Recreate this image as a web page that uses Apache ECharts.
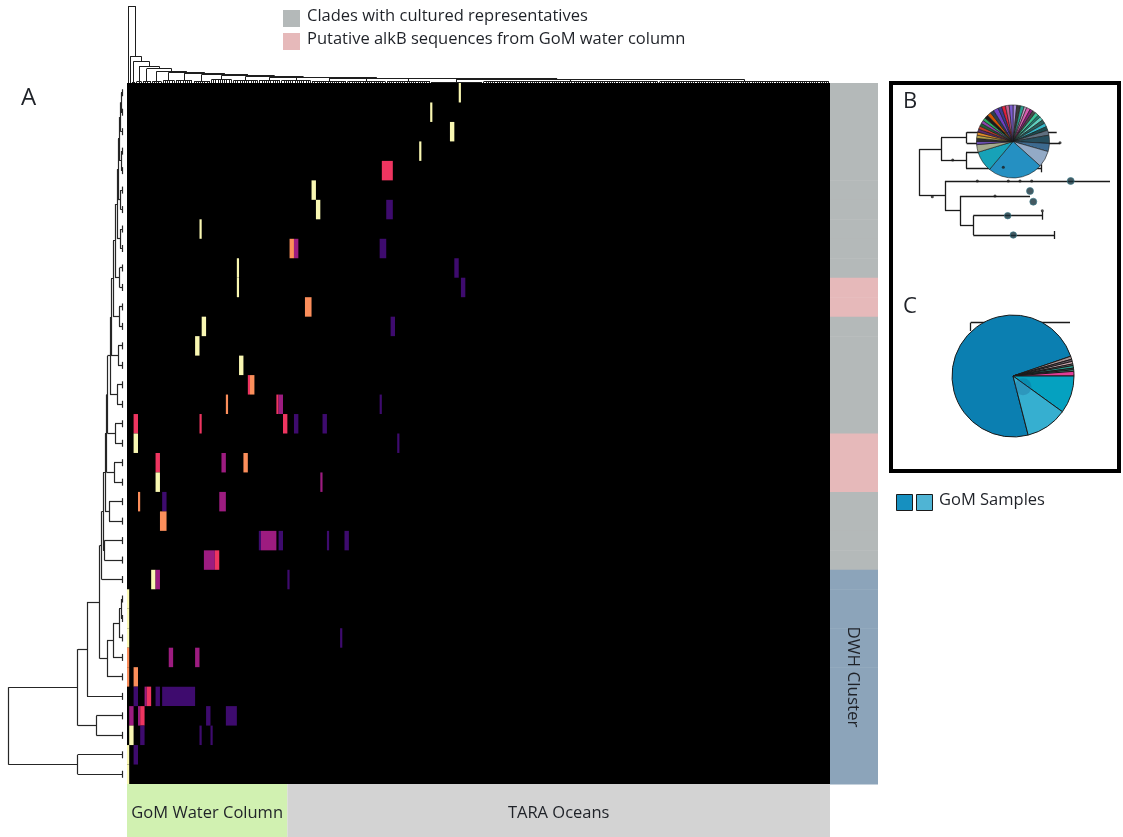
<!DOCTYPE html>
<html>
<head>
<meta charset="utf-8">
<script src="https://cdn.jsdelivr.net/npm/echarts@6/dist/echarts.min.js"></script>
<style>
html,body{margin:0;padding:0;background:#fff;}
#chart{width:1123px;height:837px;}
</style>
</head>
<body>
<div id="chart"></div>
<script>
// ---------- heatmap layout ----------
const N_COLS = 320;          // samples (columns)
const N_ROWS = 36;           // alkB clades (rows)
const GOM_COLS = 73;         // first block of columns: GoM water column samples

// abundance level colours, level 1 (low) .. 5 (high)
const levelColors = ['#3e0b6e', '#9d1c80', '#ee3560', '#fb8e5b', '#f9f7b2'];

// non-zero cells: [row, first column, column span, level]
const cells = [
  [0,151,1,5],
  [1,138,1,5],
  [2,147,2,5],
  [3,133,1,5],
  [4,116,5,3],
  [5,84,2,5],
  [6,86,2,5],[6,118,3,1],
  [7,33,1,5],
  [8,74,2,4],[8,76,2,2],[8,115,3,1],
  [9,50,1,5],[9,149,2,1],
  [10,50,1,5],[10,152,2,1],
  [11,81,3,4],
  [12,34,2,5],[12,120,2,1],
  [13,31,2,5],
  [14,51,2,5],
  [15,55,1,3],[15,56,2,4],
  [16,45,1,4],[16,68,1,3],[16,69,2,2],[16,115,1,1],
  [17,3,2,3],[17,33,1,3],[17,71,2,3],[17,76,2,1],[17,89,2,1],
  [18,3,2,5],[18,123,1,1],
  [19,13,2,3],[19,43,2,2],[19,53,2,4],
  [20,13,2,5],[20,88,1,2],
  [21,5,1,4],[21,16,2,1],[21,42,3,2],
  [22,15,3,4],
  [23,60,1,1],[23,61,7,2],[23,69,2,1],[23,91,1,1],[23,99,2,1],
  [24,35,5,2],[24,40,2,3],
  [25,11,2,5],[25,13,2,2],[25,73,1,1],
  [26,0,1,5],
  [27,0,1,5],
  [28,0,1,5],[28,97,1,1],
  [29,0,1,4],[29,19,2,2],[29,31,2,2],
  [30,0,1,4],[30,3,2,4],
  [31,3,2,1],[31,8,1,2],[31,9,2,3],[31,13,2,1],[31,16,15,1],
  [32,1,2,2],[32,5,1,2],[32,6,2,3],[32,36,2,1],[32,45,5,1],
  [33,1,2,5],[33,6,2,1],[33,33,1,1],[33,38,1,1],
  [34,0,1,5],[34,3,2,1],
  [35,0,1,5]
];

// row annotation: 0 = clades with cultured representatives, 1 = putative GoM alkB, 2 = DWH cluster
const rowGroups = [0,0,0,0,0,0,0,0,0,0, 1,1, 0,0,0,0,0,0, 1,1,1, 0,0,0,0, 2,2,2,2,2,2,2,2,2,2,2];
const rowGroupColors = ['#b4b9b9', '#e6b9ba', '#8ca4ba'];

// column annotation: [first column, end column]
const sampleGroups = [[0, GOM_COLS], [GOM_COLS, N_COLS]];
const sampleGroupNames = ['GoM Water Column', 'TARA Oceans'];
const sampleGroupColors = ['#d1f1b1', '#d3d3d3'];

// ---------- row dendrogram: [height, left, right], leaves are row numbers ----------
const rowTree = (() => {
  const P1 = [1, 0, 1], P2 = [1.5, P1, 2], P3 = [1, 3, 4], P4 = [2.5, P2, P3];
  const P5 = [1.5, 5, 6], P6 = [4, P4, P5], P7 = [2, 7, 8], P8 = [5, P6, P7];
  const P9 = [2.5, 9, 10], P10 = [7, P8, P9];
  const U2 = [9, P10, [3, 11, 12]];
  const U3 = [11, U2, [4, 13, 14]];
  const U4 = [12, U3, [5, 15, 16]];
  const U5 = [14.5, U4, [7, 17, 18]];
  const U6 = [15.5, U5, [8, 19, 20]];
  const U7 = [17, U6, [13, 21, 22]];
  const U8 = [19, U7, [17.7, 23, 24]];
  const U9 = [20.3, U8, 25];
  const A = [3, [1, 26, 27], 28], B = [9, A, 29], C = [15, B, 30];
  const D = [22.3, U9, C], E = [35, D, 31], F = [25.7, 32, 33];
  const G = [44.3, E, F], H = [44.3, 34, 35];
  return [113.7, G, H];
})();

// ---------- column dendrogram: ladder of blocks [leaves, block height, join height] ----------
const colBlocks = [
  [1,0,76.7],[1,0,26.7],[2,1,21.7],[3,1.5,16.7],[4,2,14.3],[5,1.5,11.7],
  [6,2.5,10.7],[8,3,9.5],[8,2,8.5],[10,3.5,7.5],[12,2.5,6.5],[10,3,5.8],
  [14,2.5,5.2],[16,2,4.8],[18,1.5,4.4],[20,2,4.1],[24,1,3.9],[80,1.4,3.7],[78,1.1,0]
];

// ---------- panel B: phylogram [x, childA, childB], leaves [x end, y] ----------
const treeB = [30.3,
  [52, [77.7, [167.7, 51.3], [171, 62.3]], [77, [111, 71.7], [152.7, 87.3]]],
  [56, [221, 100], [71, [141, 115], [84.3, [153, 134.7], [165, 154]]]]];
const treeBTicks = [[152.7, 87.3], [153, 134.7], [165, 154]];
// node markers: [x, y, size]
const treeBNodes = [[181.7,100,7],[141,110,7],[144.3,120.7,7],[118.7,134.7,6.5],[124.3,154,6.5]];
const treeBDots = [[63.7,79],[43.3,115.7],[88.3,100],[119.3,100],[131,100],[142.7,100],
  [106,115],[153.3,129.7],[171,61.7],[114.3,86.3]];
// panel C stem behind the pie
const treeCStem = [[81.7,241.7,181,241.7],[81.7,241.7,81.7,250]];

// pie shares (degrees of arc), clockwise from 12 o'clock
const pieBShares = [6,6,6,4,6,5,5,6,4,6,6,6,6,8,13,13,26,88,33,12,5,5,5,5,5,5,5,5,5,6,6,6,8,6,6,6,6];
const pieBColors = ['#a58bd6','#3a3a3a','#2a9d8f','#c9a0c8','#d85cb0','#8b1f7a','#4a4a4a',
  '#3cc49a','#1e7f72','#5fd0c0','#2b5d5a','#35b6c8','#1b4a4e','#607080','#274e5e',
  '#3d6a8f','#93aac6','#2590c2','#17a2b8','#a4aa8e','#6a4fb0','#2e2e2e','#b8a248',
  '#e08a2a','#5b2c6f','#c0392b','#1f5f3a','#8e44ad','#27ae60','#1a1a1a','#d35400',
  '#2c3e50','#6f3fc4','#3b3b8f','#e0203c','#c06090','#7b5bd0'];
// panel C pie shares (percent), clockwise starting at the dominant GoM slice
const pieCShares = [73.75, 0.83, 0.56, 0.69, 0.42, 0.69, 0.42, 0.42, 1.22, 9.97, 11.03];
const pieCColors = ['#0b7fb1','#a89090','#6a5a6a','#c4a0a8','#8a8a8a','#2a9d8f','#1f6f6a',
  '#5ab4a0','#e03c96','#05a1c0','#36afd0'];

// ---------- helpers ----------
// lay out a nested tree; returns segments [h1, p1, h2, p2] in (height, position) space
function layoutTree(node, segs, leafPos) {
  if (typeof node === 'number') return {pos: leafPos(node), h: 0};
  const h = node[0];
  const kids = node.slice(1).map(k => layoutTree(k, segs, leafPos));
  const ps = kids.map(k => k.pos);
  const lo = Math.min(...ps), hi = Math.max(...ps);
  segs.push([h, lo, h, hi]);
  kids.forEach(k => segs.push([k.h, k.pos, h, k.pos]));
  return {pos: (lo + hi) / 2, h: h};
}

// rows: x = height, y = row position
const rowSegs = [];
layoutTree(rowTree, rowSegs, r => r + 0.5);
const rowTicks = [];
for (let r = 0; r < N_ROWS; r++) rowTicks.push([0, r + 0.32, 0, r + 0.68]);

// columns: build the ladder from the blocks
const colTree = (() => {
  let start = 0;
  const blockNodes = colBlocks.map(([m, hb]) => {
    const leaves = [];
    for (let i = 0; i < m; i++) leaves.push(start + i);
    start += m;
    return m === 1 ? leaves[0] : [hb, ...leaves];
  });
  let node = blockNodes[blockNodes.length - 1];
  for (let k = colBlocks.length - 2; k >= 0; k--) node = [colBlocks[k][2], blockNodes[k], node];
  return node;
})();
const colSegsHP = [];
layoutTree(colTree, colSegsHP, c => c + 0.5);
const colSegs = colSegsHP.map(([h1, p1, h2, p2]) => [p1, h1, p2, h2]);

// panel B tree segments in (x, y)
function layoutPhylo(node, segs) {
  if (node.length === 2 && !Array.isArray(node[1])) return {x: node[0], y: node[1], leaf: true};
  const x = node[0];
  const kids = node.slice(1).map(k => layoutPhylo(k, segs));
  const ys = kids.map(k => k.y);
  segs.push([x, Math.min(...ys), x, Math.max(...ys)]);
  kids.forEach(k => segs.push([x, k.y, k.x, k.y]));
  return {x: x, y: (Math.min(...ys) + Math.max(...ys)) / 2};
}
const treeBSegs = [];
layoutPhylo(treeB, treeBSegs);
treeBTicks.forEach(([x, y]) => treeBSegs.push([x, y - 4, x, y + 4]));

function crisp(v) { return Math.round(v - 0.5) + 0.5; }
function segRenderer(color, width) {
  return function (params, api) {
    const a = api.coord([api.value(0), api.value(1)]);
    const b = api.coord([api.value(2), api.value(3)]);
    let x1 = a[0], y1 = a[1], x2 = b[0], y2 = b[1];
    if (Math.abs(x1 - x2) < 0.01) { x1 = x2 = crisp(x1); }
    if (Math.abs(y1 - y2) < 0.01) { y1 = y2 = crisp(y1); }
    return {type: 'line', shape: {x1, y1, x2, y2},
      style: {stroke: color, lineWidth: width}};
  };
}

function cellItem(params, api) {
  const r = api.value(0), c = api.value(1), s = api.value(2), lv = api.value(3);
  const p0 = api.coord([c, r]);
  const p1 = api.coord([c + s, r + 1]);
  return {type: 'rect',
    shape: {x: p0[0], y: p0[1], width: p1[0] - p0[0], height: p1[1] - p0[1]},
    style: {fill: levelColors[lv - 1]}};
}

function rowGroupItem(params, api) {
  const r = api.value(0), g = api.value(1);
  const p0 = api.coord([0, r]);
  const p1 = api.coord([1, r + 1]);
  return {type: 'rect',
    shape: {x: p0[0], y: p0[1], width: p1[0] - p0[0], height: p1[1] - p0[1] + 0.5},
    style: {fill: rowGroupColors[g]}};
}

function sampleGroupItem(params, api) {
  const a = api.value(0), b = api.value(1), i = params.dataIndex;
  const p0 = api.coord([a, 1]);
  const p1 = api.coord([b, 0]);
  return {type: 'group', children: [
    {type: 'rect', shape: {x: p0[0], y: p0[1], width: p1[0] - p0[0], height: p1[1] - p0[1]},
      style: {fill: sampleGroupColors[i]}},
    {type: 'text', style: {text: sampleGroupNames[i], x: (p0[0] + p1[0]) / 2, y: p0[1] + 29,
      align: 'center', verticalAlign: 'middle', fill: '#1f2228',
      fontSize: 16.5, fontFamily: 'Open Sans'}}
  ]};
}

const FONT = 'Open Sans';
const hidden = {show: false};

const option = {
  animation: false,
  backgroundColor: '#ffffff',
  grid: [
    {left: 127, top: 83, width: 703, height: 701, show: true, backgroundColor: '#000', borderWidth: 0},
    {left: 0, top: 83, width: 127, height: 701},
    {left: 127, top: 5, width: 703, height: 78},
    {left: 830, top: 83, width: 48, height: 701},
    {left: 127, top: 784, width: 703, height: 53},
    {left: 889, top: 81, width: 234, height: 400}
  ],
  xAxis: [
    {gridIndex: 0, type: 'value', min: 0, max: N_COLS, ...hidden},
    {gridIndex: 1, type: 'value', min: -5, max: 122, inverse: true, ...hidden},
    {gridIndex: 2, type: 'value', min: 0, max: N_COLS, ...hidden},
    {gridIndex: 3, type: 'value', min: 0, max: 1, ...hidden},
    {gridIndex: 4, type: 'value', min: 0, max: N_COLS, ...hidden},
    {gridIndex: 5, type: 'value', min: 0, max: 234, ...hidden}
  ],
  yAxis: [
    {gridIndex: 0, type: 'value', min: 0, max: N_ROWS, inverse: true, ...hidden},
    {gridIndex: 1, type: 'value', min: 0, max: N_ROWS, inverse: true, ...hidden},
    {gridIndex: 2, type: 'value', min: 0, max: 78, ...hidden},
    {gridIndex: 3, type: 'value', min: 0, max: N_ROWS, inverse: true, ...hidden},
    {gridIndex: 4, type: 'value', min: 0, max: 1, ...hidden},
    {gridIndex: 5, type: 'value', min: 0, max: 400, inverse: true, ...hidden}
  ],
  series: [
    {type: 'custom', name: 'abundance', xAxisIndex: 0, yAxisIndex: 0, data: cells,
      encode: {x: 1, y: 0}, renderItem: cellItem, silent: true, z: 3},
    {type: 'custom', name: 'row dendrogram', xAxisIndex: 1, yAxisIndex: 1,
      data: rowSegs.concat(rowTicks), encode: {x: [0, 2], y: [1, 3]},
      renderItem: segRenderer('#262626', 1.2), silent: true},
    {type: 'custom', name: 'column dendrogram', xAxisIndex: 2, yAxisIndex: 2,
      data: colSegs, encode: {x: [0, 2], y: [1, 3]},
      renderItem: segRenderer('#1e1e1e', 1), silent: true},
    {type: 'custom', name: 'row groups', xAxisIndex: 3, yAxisIndex: 3,
      data: rowGroups.map((g, i) => [i, g]), encode: {y: 0},
      renderItem: rowGroupItem, silent: true},
    {type: 'custom', name: 'sample groups', xAxisIndex: 4, yAxisIndex: 4,
      data: sampleGroups, encode: {x: [0, 1]},
      renderItem: sampleGroupItem, silent: true},
    {type: 'custom', name: 'tree B', xAxisIndex: 5, yAxisIndex: 5,
      data: treeBSegs.concat(treeCStem), encode: {x: [0, 2], y: [1, 3]},
      renderItem: segRenderer('#1a1a1a', 1.3), silent: true, z: 1},
    {type: 'pie', name: 'pie B', center: [1013, 141.5], radius: 36.5, startAngle: 90,
      clockwise: true, label: {show: false}, labelLine: {show: false}, silent: true, z: 3,
      itemStyle: {borderColor: '#1a1a1a', borderWidth: 0.6},
      data: pieBShares.map((v, i) => ({value: v, itemStyle: {color: pieBColors[i]}}))},
    {type: 'pie', name: 'pie C', center: [1013, 376], radius: 61, startAngle: -75.6,
      clockwise: true, label: {show: false}, labelLine: {show: false}, silent: true, z: 3,
      itemStyle: {borderColor: '#1a1a1a', borderWidth: 1},
      data: pieCShares.map((v, i) => ({value: v, itemStyle: {color: pieCColors[i]}}))},
    {type: 'scatter', name: 'B nodes', xAxisIndex: 5, yAxisIndex: 5, z: 5, silent: true,
      data: treeBNodes, symbolSize: v => v[2],
      itemStyle: {color: '#15303a', borderColor: '#3a7d8c', borderWidth: 0.8}},
    {type: 'scatter', name: 'B dots', xAxisIndex: 5, yAxisIndex: 5, z: 5, silent: true,
      data: treeBDots, symbolSize: 3, itemStyle: {color: '#1a1a1a'}},
    {type: 'scatter', name: 'C node', xAxisIndex: 5, yAxisIndex: 5, z: 5, silent: true,
      data: [[134, 305.7]], symbolSize: 17, itemStyle: {color: 'rgba(20,80,130,0.3)'}}
  ],
  graphic: [
    // legend
    {type: 'rect', left: 283, top: 10, shape: {width: 17, height: 17}, style: {fill: rowGroupColors[0]}},
    {type: 'rect', left: 283, top: 33, shape: {width: 17, height: 17}, style: {fill: rowGroupColors[1]}},
    {type: 'text', left: 307, top: 8, style: {text: 'Clades with cultured representatives',
      fill: '#1f2228', fontSize: 16.5, fontFamily: FONT}},
    {type: 'text', left: 307, top: 31, style: {text: 'Putative alkB sequences from GoM water column',
      fill: '#1f2228', fontSize: 16.5, fontFamily: FONT}},
    // panel letters
    {type: 'text', left: 21, top: 86, style: {text: 'A', fill: '#1f2228', fontSize: 24, fontFamily: FONT}},
    {type: 'text', left: 903, top: 91, style: {text: 'B', fill: '#1f2228', fontSize: 22, fontFamily: FONT}},
    {type: 'text', left: 903, top: 296, style: {text: 'C', fill: '#1f2228', fontSize: 22, fontFamily: FONT}},
    // inset frame
    {type: 'rect', shape: {x: 891, y: 83, width: 228, height: 388},
      style: {fill: 'none', stroke: '#000', lineWidth: 4}, z: 10},
    // DWH label on the row annotation
    {type: 'text', x: 853, y: 677, rotation: -Math.PI / 2,
      style: {text: 'DWH Cluster', fill: '#1f2228', fontSize: 17, fontFamily: FONT,
        align: 'center', verticalAlign: 'middle'}, z: 10},
    // GoM samples key
    {type: 'rect', shape: {x: 896.5, y: 494.5, width: 16, height: 16},
      style: {fill: '#1690c0', stroke: '#1a1a1a', lineWidth: 1}},
    {type: 'rect', shape: {x: 916.5, y: 494.5, width: 16, height: 16},
      style: {fill: '#4fb4d4', stroke: '#1a1a1a', lineWidth: 1}},
    {type: 'text', left: 939, top: 492, style: {text: 'GoM Samples', fill: '#1f2228',
      fontSize: 16.5, fontFamily: FONT}}
  ]
};

const chart = echarts.init(document.getElementById('chart'));
chart.setOption(option);
</script>
</body>
</html>
